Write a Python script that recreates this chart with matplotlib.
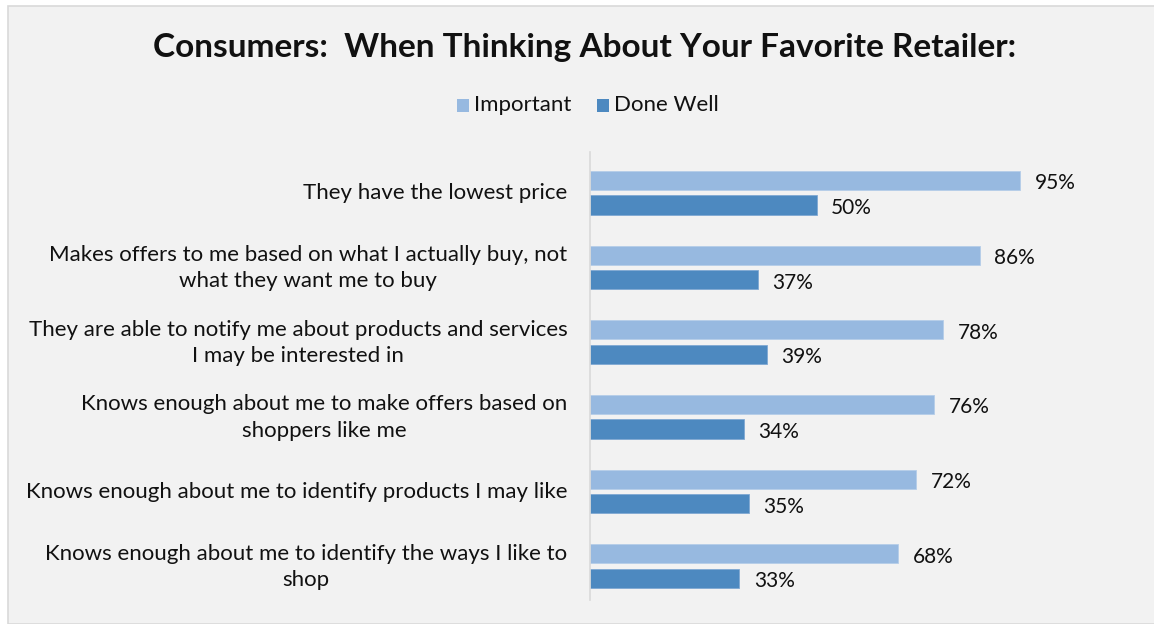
import matplotlib.pyplot as plt
from matplotlib.patches import Rectangle

plt.rcParams['font.family'] = ['Lato', 'DejaVu Sans']

# Survey answers
categories = [
    'They have the lowest price',
    'Makes offers to me based on what I actually buy, not\nwhat they want me to buy',
    'They are able to notify me about products and services\nI may be interested in',
    'Knows enough about me to make offers based on\nshoppers like me',
    'Knows enough about me to identify products I may like',
    'Knows enough about me to identify the ways I like to\nshop',
]
important = [95, 86, 78, 76, 72, 68]
done_well = [50, 37, 39, 34, 35, 33]

c_imp = '#97B9E0'
c_done = '#4D89C0'

W, H = 1154, 624
fig = plt.figure(figsize=(W / 100, H / 100), dpi=100)
fig.patch.set_facecolor('white')

# gray chart panel, kept behind the axes
fig.patches.append(Rectangle((8 / W, 0), 1, (H - 6) / H, transform=fig.transFigure,
                             facecolor='#F2F2F2', edgecolor='#D9D9D9', linewidth=1.2,
                             zorder=-5))

ax = fig.add_axes([590 / W, (H - 600) / H, (1043 - 590) / W, (600 - 152) / H])
ax.set_facecolor('none')

n = len(categories)
bh = 0.255
off = 0.165
shift = 0.045
for i in range(n):
    y = i + shift
    ax.barh(y - off, important[i], height=bh, color=c_imp, edgecolor='#B5CDE8', linewidth=0.6)
    ax.barh(y + off, done_well[i], height=bh, color=c_done, edgecolor='#7FA8D3', linewidth=0.6)
    ax.text(important[i] + 3.2, y - off + 0.04, f'{important[i]}%', va='center', ha='left',
            fontsize=15, color='#111111')
    ax.text(done_well[i] + 3.2, y + off + 0.04, f'{done_well[i]}%', va='center', ha='left',
            fontsize=15, color='#111111')
    ax.text(-5, y + 0.01, categories[i], ha='right', va='center', multialignment='center',
            fontsize=16, color='#111111', linespacing=1.4)

ax.set_xlim(0, 100)
ax.set_ylim(n - 0.5, -0.5)
ax.set_xticks([])
ax.set_yticks([])
for s in ['top', 'right', 'bottom']:
    ax.spines[s].set_visible(False)
ax.spines['left'].set_color('#D9D9D9')
ax.spines['left'].set_linewidth(1.2)

fig.text(585 / W, 1 - 47 / H, 'Consumers:  When Thinking About Your Favorite Retailer:',
         ha='center', va='center', fontsize=24, fontweight='bold', color='#111111')

# legend
ly = 1 - 105 / H
fig.patches.append(Rectangle((457 / W, ly - 6.5 / H), 12 / W, 12 / H, transform=fig.transFigure,
                             facecolor=c_imp, edgecolor='none'))
fig.text(474 / W, ly, 'Important', ha='left', va='center', fontsize=16, color='#111111')
fig.patches.append(Rectangle((597 / W, ly - 6.5 / H), 12 / W, 12 / H, transform=fig.transFigure,
                             facecolor=c_done, edgecolor='none'))
fig.text(614 / W, ly, 'Done Well', ha='left', va='center', fontsize=16, color='#111111')

fig.savefig('out.png', dpi=100)
